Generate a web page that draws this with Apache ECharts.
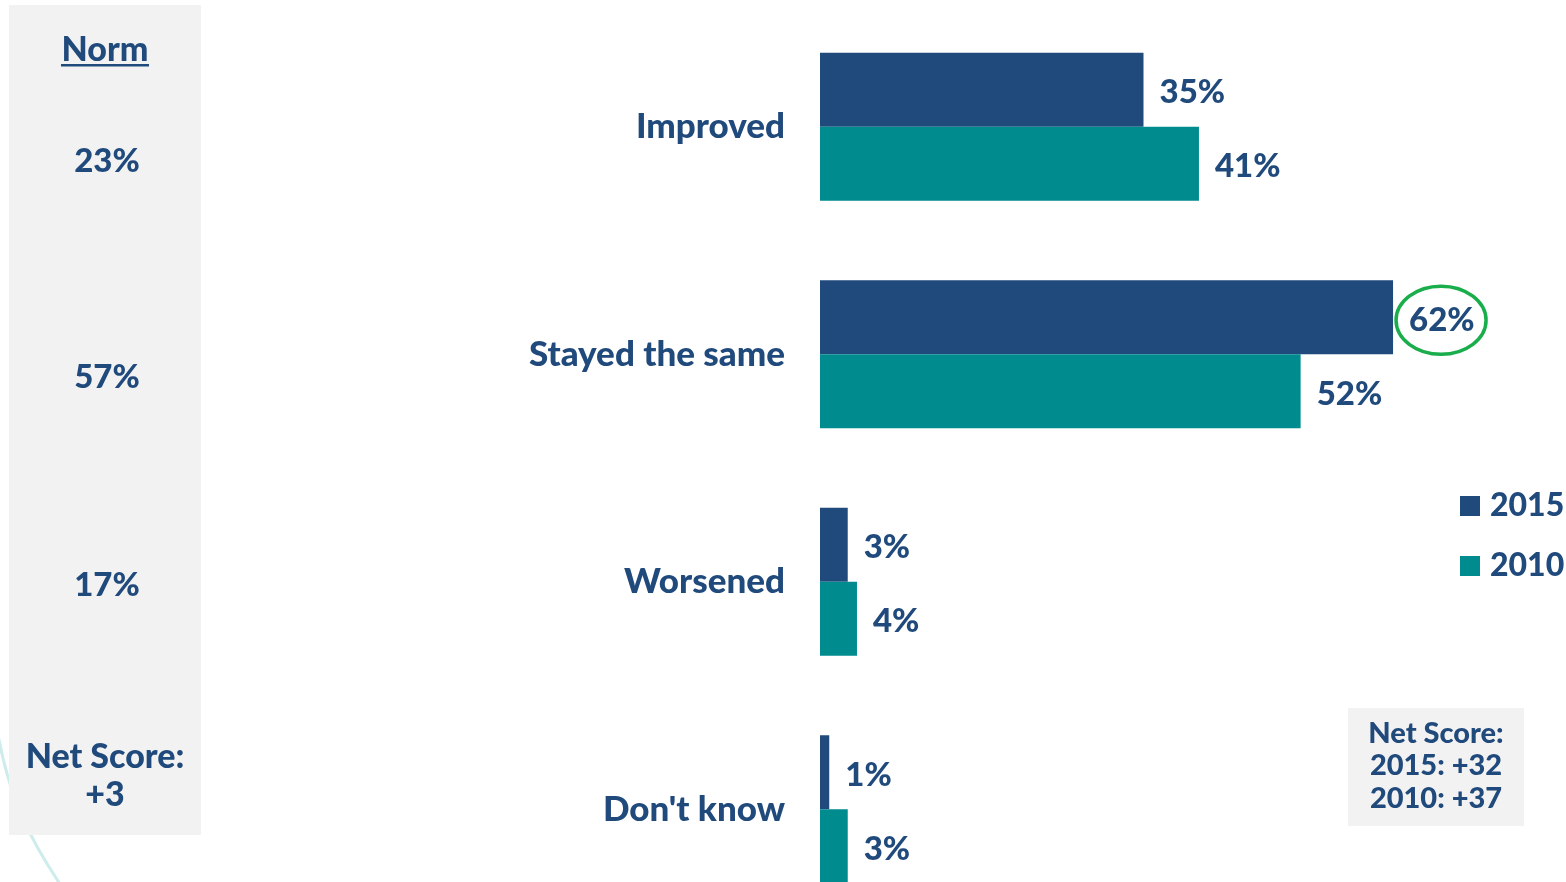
<!DOCTYPE html>
<html>
<head>
<meta charset="utf-8">
<style>
  html, body { margin: 0; padding: 0; background: #ffffff; }
  #chart { width: 1566px; height: 882px; }
</style>
<script src="https://cdn.jsdelivr.net/npm/echarts@6/dist/echarts.min.js"></script>
</head>
<body>
<div id="chart"></div>
<script>
// Answer categories, top to bottom
const categories = ['Improved', 'Stayed the same', 'Worsened', "Don't know"];
// Share of respondents (%) per year
const values2015 = [35, 62, 3, 1];
const values2010 = [41, 52, 4, 3];
// Norm column
const normHeader = 'Norm';
const normValues = ['23%', '57%', '17%'];
const normNet = ['Net Score:', '+3'];
// Net score box
const netScoreLines = ['Net Score:', '2015: +32', '2010: +37'];
// Highlighted value
const highlightCategory = 'Stayed the same';
const highlightValue = 62;

const NAVY = '#214a7c';
const TEAL = '#008b8f';
const TEXT = '#214a7c';
const PANEL = '#f2f2f2';
const FONT = 'Lato, "Open Sans", sans-serif';
const WEIGHT = 900;

const chart = echarts.init(document.getElementById('chart'), null, { renderer: 'canvas' });

const labelStyle = {
  show: true,
  position: 'right',
  distance: 16,
  offset: [0, 3],
  formatter: '{c}%',
  color: TEXT,
  fontFamily: FONT,
  fontWeight: WEIGHT,
  fontSize: 33
};

const normY = [161, 377, 585];

const option = {
  backgroundColor: '#ffffff',
  animation: false,
  grid: { left: 820, top: 13, width: 647, height: 910, containLabel: false, outerBoundsMode: 'none' },
  xAxis: {
    type: 'value', min: 0, max: 70, show: false
  },
  yAxis: {
    type: 'category',
    data: categories,
    inverse: true,
    axisLine: { show: false },
    axisTick: { show: false },
    splitLine: { show: false },
    axisLabel: {
      margin: 35,
      color: TEXT,
      fontFamily: FONT,
      fontWeight: WEIGHT,
      fontSize: 35
    }
  },
  legend: {
    orient: 'vertical',
    left: 1455,
    top: 485,
    itemWidth: 20,
    itemHeight: 20,
    itemGap: 28,
    icon: 'rect',
    textStyle: { color: TEXT, fontFamily: FONT, fontWeight: WEIGHT, fontSize: 32, padding: [0, 0, 0, 5] },
    data: ['2015', '2010']
  },
  series: [
    {
      name: '2015', type: 'bar', data: values2015,
      barWidth: 74, barGap: '0%',
      itemStyle: { color: NAVY },
      label: labelStyle
    },
    {
      name: '2010', type: 'bar', data: values2010,
      barWidth: 74, barGap: '0%',
      itemStyle: { color: TEAL },
      label: labelStyle
    }
  ],
  graphic: [
    // decorative arc behind the norm panel
    {
      type: 'bezierCurve', z: 0, silent: true,
      shape: { x1: -2, y1: 735, x2: 64, y2: 890, cpx1: 10, cpy1: 800, cpx2: 30, cpy2: 840 },
      style: { stroke: '#cdeceb', lineWidth: 3, fill: null }
    },
    // norm panel
    {
      type: 'rect', z: 1, silent: true,
      shape: { x: 9, y: 5, width: 192, height: 830 },
      style: { fill: PANEL }
    },
    {
      type: 'text', z: 2, x: 105, y: 50,
      style: { text: normHeader, fill: TEXT, font: WEIGHT + ' 34px ' + FONT, align: 'center', verticalAlign: 'middle' }
    },
    {
      type: 'rect', z: 2,
      shape: { x: 61, y: 64, width: 88, height: 2.5 },
      style: { fill: TEXT }
    },
    ...normValues.map((t, i) => ({
      type: 'text', z: 2, x: 107, y: normY[i],
      style: { text: t, fill: TEXT, font: WEIGHT + ' 33px ' + FONT, align: 'center', verticalAlign: 'middle' }
    })),
    {
      type: 'text', z: 2, x: 105, y: 776,
      style: { text: normNet.join('\n'), fill: TEXT, font: WEIGHT + ' 34px ' + FONT, align: 'center', verticalAlign: 'middle', lineHeight: 38 }
    },
    // net score box
    {
      type: 'rect', z: 1, silent: true,
      shape: { x: 1348, y: 708, width: 176, height: 118 },
      style: { fill: PANEL }
    },
    {
      type: 'text', z: 2, x: 1436, y: 766,
      style: { text: netScoreLines.join('\n'), fill: TEXT, font: WEIGHT + ' 29px ' + FONT, align: 'center', verticalAlign: 'middle', lineHeight: 32.5 }
    }
  ]
};

chart.setOption(option);

// ring around the highlighted 2015 value, placed from the axes
const p = chart.convertToPixel({ gridIndex: 0 }, [highlightValue, highlightCategory]);
chart.setOption({
  graphic: option.graphic.concat([{
    type: 'ellipse', z: 5, silent: true,
    shape: { cx: p[0] + 48, cy: p[1] - 34, rx: 45, ry: 34 },
    style: { fill: null, stroke: '#1aad4b', lineWidth: 3.5 }
  }])
});
</script>
</body>
</html>
